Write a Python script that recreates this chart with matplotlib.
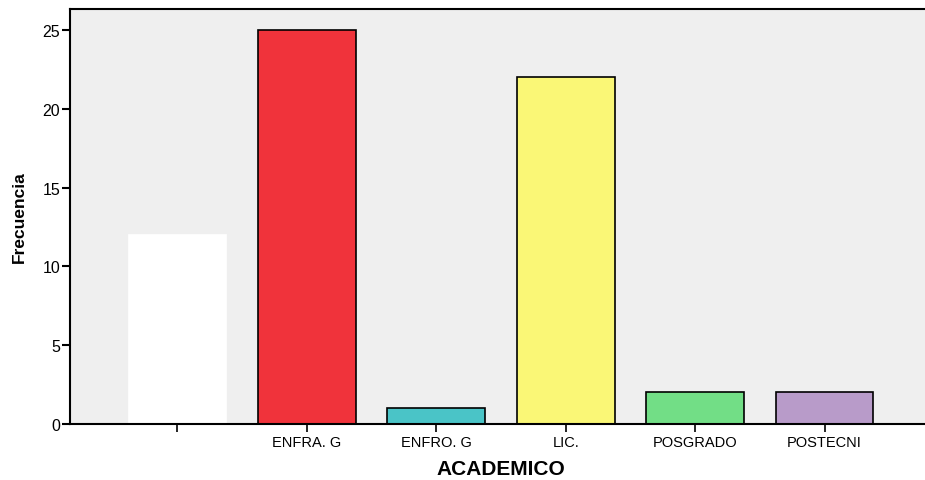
import numpy as np
import matplotlib.pyplot as plt

plt.rcParams['font.family'] = ['Liberation Sans', 'DejaVu Sans']

# data
categories = ['', 'ENFRA. G', 'ENFRO. G', 'LIC.', 'POSGRADO', 'POSTECNI']
frecuencia = [12, 25, 1, 22, 2, 2]
colores = ['#ffffff', '#f0333b', '#4ac4c7', '#faf776', '#72de86', '#b89bc9']
bordes = ['#ffffff', 'black', 'black', 'black', 'black', 'black']

fig = plt.figure(figsize=(9.25, 4.81), dpi=100)
ax = fig.add_axes([70 / 925, 56 / 481, 862 / 925, 415 / 481])
ax.set_facecolor('#efefef')

x = np.arange(len(categories))
ax.bar(x, frecuencia, width=0.755, color=colores, edgecolor=bordes, linewidth=1.2, zorder=2)

ax.set_xlim(-0.83, 5.83)
ax.set_ylim(0, 26.33)
ax.set_yticks([0, 5, 10, 15, 20, 25])
ax.set_xticks(x)
ax.set_xticklabels(categories, fontsize=10.5)
ax.tick_params(axis='y', length=6, width=1.5, labelsize=11.5, pad=1)
ax.tick_params(axis='x', length=6, width=1.2, pad=2)

for s in ax.spines.values():
    s.set_linewidth(1.5)
    s.set_color('black')

ax.set_ylabel('Frecuencia', fontsize=12.5, fontweight='bold', labelpad=11)
ax.set_xlabel('ACADEMICO', fontsize=15, fontweight='bold', labelpad=7)

fig.savefig('out.png', dpi=100)
